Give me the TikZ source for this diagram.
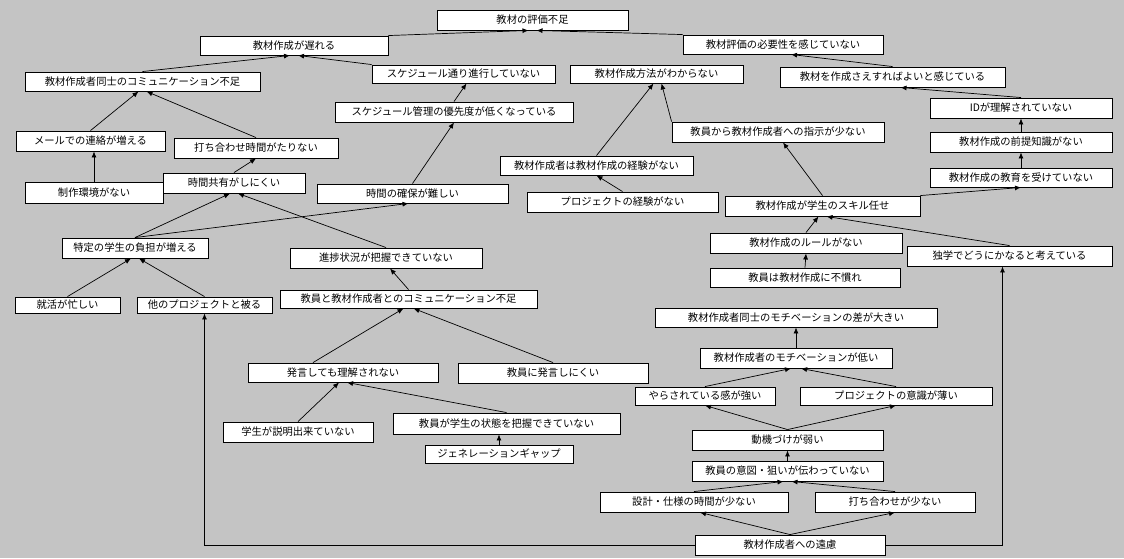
\documentclass[tikz,border=0pt]{standalone}
\usepackage{fontspec}
\newfontfamily\jp{Noto Sans CJK JP}
\usetikzlibrary{arrows.meta}
\definecolor{bgc}{HTML}{C4C4C4}
\tikzset{
  bx/.style={draw=black, line width=0.9pt, fill=white, inner sep=0pt,
    font=\jp\fontsize{10.3}{12}\selectfont},
  arr/.style={draw=black, line width=0.7pt, -{Latex[length=6pt,width=5pt]}}
}
\begin{document}
\begin{tikzpicture}[x=1pt,y=-1pt]
\useasboundingbox (0,0) rectangle (1124,558);
\fill[bgc] (0,0) rectangle (1124,558);
% nodes
\node[bx, minimum width=191, minimum height=20] (n1) at (532.5,20) {教材の評価不足};
\node[bx, minimum width=188, minimum height=19] (n2) at (294,45.5) {教材作成が遅れる};
\node[bx, minimum width=200, minimum height=19] (n3) at (783,44.5) {教材評価の必要性を感じていない};
\node[bx, minimum width=235, minimum height=19] (n4) at (142.5,81.5) {教材作成者同士のコミュニケーション不足};
\node[bx, minimum width=183, minimum height=18] (n5) at (463.5,74) {スケジュール通り進行していない};
\node[bx, minimum width=173, minimum height=18] (n6) at (656.5,74) {教材作成方法がわからない};
\node[bx, minimum width=225, minimum height=20] (n7) at (892.5,77) {教材を作成さえすればよいと感じている};
\node[bx, minimum width=238, minimum height=20] (n8) at (454,112) {スケジュール管理の優先度が低くなっている};
\node[bx, minimum width=182, minimum height=20] (n9) at (1021,108) {IDが理解されていない};
\node[bx, minimum width=149, minimum height=20] (n10) at (90.5,141) {メールでの連絡が増える};
\node[bx, minimum width=164, minimum height=20] (n11) at (256,148) {打ち合わせ時間がたりない};
\node[bx, minimum width=212, minimum height=20] (n12) at (778,132) {教員から教材作成者への指示が少ない};
\node[bx, minimum width=182, minimum height=20] (n13) at (1021,142) {教材作成の前提知識がない};
\node[bx, minimum width=193, minimum height=19] (n14) at (596.5,165.5) {教材作成者は教材作成の経験がない};
\node[bx, minimum width=138, minimum height=21] (n15) at (94,192.5) {制作環境がない};
\node[bx, minimum width=142, minimum height=20] (n16) at (234,183) {時間共有がしにくい};
\node[bx, minimum width=191, minimum height=19] (n17) at (412.5,193.5) {時間の確保が難しい};
\node[bx, minimum width=191, minimum height=20] (n18) at (622.5,202) {プロジェクトの経験がない};
\node[bx, minimum width=195, minimum height=20] (n19) at (822.5,206) {教材作成が学生のスキル任せ};
\node[bx, minimum width=182, minimum height=19] (n20) at (1021,177.5) {教材作成の教育を受けていない};
\node[bx, minimum width=146, minimum height=20] (n21) at (135,248) {特定の学生の負担が増える};
\node[bx, minimum width=192, minimum height=20] (n22) at (386,258) {進捗状況が把握できていない};
\node[bx, minimum width=192, minimum height=20] (n23) at (806,243) {教材作成のルールがない};
\node[bx, minimum width=205, minimum height=20] (n24) at (1009.5,256) {独学でどうにかなると考えている};
\node[bx, minimum width=190, minimum height=19] (n25) at (805,277.5) {教員は教材作成に不慣れ};
\node[bx, minimum width=105, minimum height=16] (n26) at (67.5,305) {就活が忙しい};
\node[bx, minimum width=135, minimum height=16] (n27) at (204.5,305) {他のプロジェクトと被る};
\node[bx, minimum width=257, minimum height=18] (n28) at (408.5,299) {教員と教材作成者とのコミュニケーション不足};
\node[bx, minimum width=282, minimum height=19] (n29) at (796,317.5) {教材作成者同士のモチベーションの差が大きい};
\node[bx, minimum width=190, minimum height=19] (n30) at (343,372.5) {発言しても理解されない};
\node[bx, minimum width=190, minimum height=20] (n31) at (553,373) {教員に発言しにくい};
\node[bx, minimum width=192, minimum height=20] (n32) at (796,358) {教材作成者のモチベーションが低い};
\node[bx, minimum width=140, minimum height=18] (n33) at (705,396) {やらされている感が強い};
\node[bx, minimum width=192, minimum height=18] (n34) at (896,396) {プロジェクトの意識が薄い};
\node[bx, minimum width=150, minimum height=20] (n35) at (298,432) {学生が説明出来ていない};
\node[bx, minimum width=227, minimum height=21] (n36) at (506.5,423.5) {教員が学生の状態を把握できていない};
\node[bx, minimum width=148, minimum height=18] (n37) at (499,454) {ジェネレーションギャップ};
\node[bx, minimum width=191, minimum height=20] (n38) at (787.5,440) {動機づけが弱い};
\node[bx, minimum width=191, minimum height=20] (n39) at (787.5,471) {教員の意図・狙いが伝わっていない};
\node[bx, minimum width=188, minimum height=20] (n40) at (694,502) {設計・仕様の時間が少ない};
\node[bx, minimum width=160, minimum height=20] (n41) at (895,502) {打ち合わせが少ない};
\node[bx, minimum width=190, minimum height=20] (n42) at (790,545) {教材作成者への遠慮};
% connectors
\draw[arr] (n2.north east) -- ([xshift=-4pt]n1.south);
\draw[arr] (n3.north west) -- ([xshift=4pt]n1.south);
\draw[arr] (n4.north) -- ([xshift=-4pt]n2.south);
\draw[arr] (n5.north west) -- ([xshift=4pt]n2.south);
\draw[arr] (n7.north) -- ([xshift=8pt]n3.south);
\draw[arr] (n9.north) -- ([xshift=8pt]n7.south);
\draw[arr] (n13.north) -- (n9.south);
\draw[arr] (n20.north) -- (n13.south);
\draw[arr] (n19.north east) -- (n20.south);
\draw[arr] (n19.north) -- ([xshift=5pt]n12.south);
\draw[arr] (n12.north west) -- ([xshift=5pt]n6.south);
\draw[arr] (n14.north) -- ([xshift=-3pt]n6.south);
\draw[arr] (n18.north) -- (n14.south);
\draw[arr] (n17.north) -- (n8.south);
\draw[arr] (n8.north) -- ([xshift=3pt]n5.south);
\draw[arr] (n16.north) -- (n11.south);
\draw[arr] (n11.north) -- ([xshift=4pt]n4.south);
\draw[arr] (n10.north) -- ([xshift=-4pt]n4.south);
\draw[arr] (n15.north) -- (n15.north |- n10.south);
\draw[arr] (n21.north) -- ([xshift=-4pt]n16.south);
\draw[arr] (n22.north) -- ([xshift=4pt]n16.south);
\draw[arr] (n21.north) -- ([xshift=-4pt]n17.south);
\draw[arr] (n26.north) -- ([xshift=-4pt]n21.south);
\draw[arr] (n27.north) -- ([xshift=4pt]n21.south);
\draw[arr] (n42.west) -| (n27.south);
\draw[arr] (n42.east) -| ([xshift=-7pt]n24.south);
\draw[arr] (n42.north) -- ([xshift=6pt]n40.south);
\draw[arr] (n42.north) -- (n41.south);
\draw[arr] (n40.north) -- ([xshift=-4pt]n39.south);
\draw[arr] (n41.north) -- ([xshift=4pt]n39.south);
\draw[arr] (n39.north) -- (n38.south);
\draw[arr] (n38.north) -- (n33.south);
\draw[arr] (n38.north) -- (n34.south);
\draw[arr] (n33.north) -- ([xshift=-5pt]n32.south);
\draw[arr] (n34.north) -- ([xshift=5pt]n32.south);
\draw[arr] (n32.north) -- (n29.south);
\draw[arr] ([xshift=-30pt]n30.north) -- ([xshift=-5pt]n28.south);
\draw[arr] (n31.north) -- ([xshift=5pt]n28.south);
\draw[arr] (n28.north) -- ([xshift=4pt]n22.south);
\draw[arr] (n35.north) -- ([xshift=-4pt]n30.south);
\draw[arr] (n36.north) -- ([xshift=4pt]n30.south);
\draw[arr] (n37.north) -- (n37.north |- n36.south);
\draw[arr] (n23.north) -- ([xshift=-4pt]n19.south);
\draw[arr] (n24.north) -- ([xshift=4pt]n19.south);
\draw[arr] (n25.north) -- (n23.south);
\end{tikzpicture}
\end{document}
